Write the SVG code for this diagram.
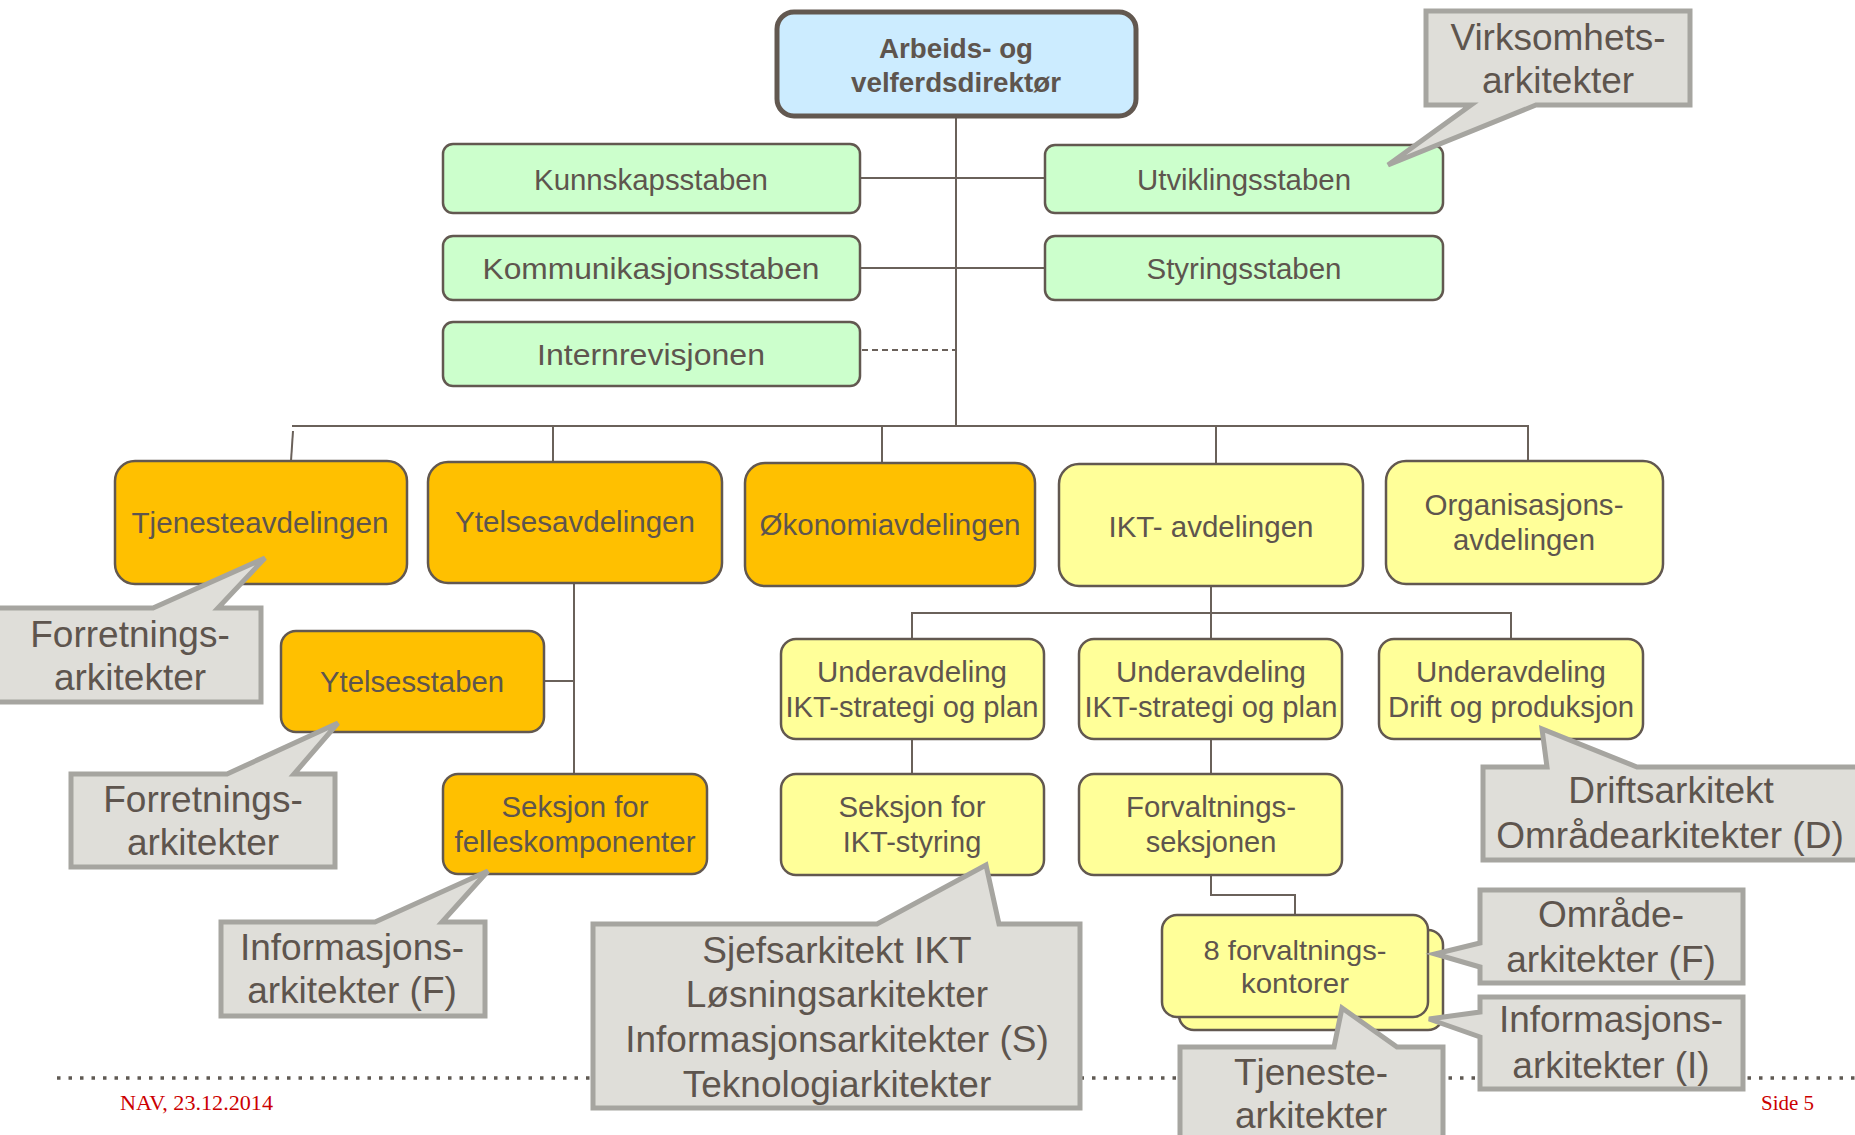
<svg xmlns="http://www.w3.org/2000/svg" width="1855" height="1135" viewBox="0 0 1855 1135">
<style>
.n{stroke:#625850;stroke-width:2.5}
.g{fill:#CCFFCC}
.o{fill:#FFC000}
.y{fill:#FFFF99}
.t{font-family:"Liberation Sans",Arial,sans-serif;font-size:29px;fill:#5E554E;text-anchor:middle}
.c{font-family:"Liberation Sans",Arial,sans-serif;font-size:37px;fill:#5E554E;text-anchor:middle}
.co{fill:#DFDED9;stroke:#A6A5A0;stroke-width:5;stroke-linejoin:miter}
.l{stroke:#6A615A;stroke-width:2;fill:none}
.f{font-family:"Liberation Serif","Times New Roman",serif;font-size:21px;fill:#CC0000}
</style>
<rect x="0" y="0" width="1855" height="1135" fill="#FFFFFF"/>

<g id="connectors">
  <path class="l" d="M956,117 V426"/>
  <path class="l" d="M860,178 H1045"/>
  <path class="l" d="M860,268 H1045"/>
  <path class="l" d="M862,350 H956" stroke-dasharray="6 4"/>
  <path class="l" d="M292,426 H1529" stroke="#8A837D"/>
  <path class="l" d="M293,431 L291,461"/>
  <path class="l" d="M553,426 V462"/>
  <path class="l" d="M882,426 V463"/>
  <path class="l" d="M1216,426 V464"/>
  <path class="l" d="M1528,426 V461"/>
  <path class="l" d="M574,583 V774"/>
  <path class="l" d="M544,681 H574"/>
  <path class="l" d="M1211,586 V613"/>
  <path class="l" d="M912,639 V613 H1511 V639"/>
  <path class="l" d="M1211,613 V639"/>
  <path class="l" d="M912,739 V774"/>
  <path class="l" d="M1211,739 V774"/>
  <path class="l" d="M1211,875 V895 H1295 V915"/>
</g>

<g id="node-direktor">
  <rect x="777" y="12" width="359" height="104" rx="17" fill="#CCECFF" stroke="#625850" stroke-width="5"/>
  <text x="956" y="58" class="t" style="font-weight:bold;font-size:27.5px" textLength="154" lengthAdjust="spacingAndGlyphs">Arbeids- og</text>
  <text x="956" y="92" class="t" style="font-weight:bold;font-size:27.5px" textLength="210" lengthAdjust="spacingAndGlyphs">velferdsdirektør</text>
</g>
<g id="node-kunnskapsstaben">
  <rect x="443" y="144" width="417" height="69" rx="10" class="n g"/>
  <text x="651" y="190" class="t" textLength="234" lengthAdjust="spacingAndGlyphs">Kunnskapsstaben</text>
</g>
<g id="node-kommunikasjonsstaben">
  <rect x="443" y="236" width="417" height="64" rx="10" class="n g"/>
  <text x="651" y="279" class="t" textLength="337" lengthAdjust="spacingAndGlyphs">Kommunikasjonsstaben</text>
</g>
<g id="node-internrevisjonen">
  <rect x="443" y="322" width="417" height="64" rx="10" class="n g"/>
  <text x="651" y="365" class="t" textLength="228" lengthAdjust="spacingAndGlyphs">Internrevisjonen</text>
</g>
<g id="node-utviklingsstaben">
  <rect x="1045" y="145" width="398" height="68" rx="10" class="n g"/>
  <text x="1244" y="190" class="t" textLength="214" lengthAdjust="spacingAndGlyphs">Utviklingsstaben</text>
</g>
<g id="node-styringsstaben">
  <rect x="1045" y="236" width="398" height="64" rx="10" class="n g"/>
  <text x="1244" y="279" class="t" textLength="195" lengthAdjust="spacingAndGlyphs">Styringsstaben</text>
</g>

<g id="node-tjenesteavdelingen">
  <rect x="115" y="461" width="292" height="123" rx="20" class="n o"/>
  <text x="260" y="533" class="t" textLength="257" lengthAdjust="spacingAndGlyphs">Tjenesteavdelingen</text>
</g>
<g id="node-ytelsesavdelingen">
  <rect x="428" y="462" width="294" height="121" rx="20" class="n o"/>
  <text x="575" y="532" class="t" textLength="240" lengthAdjust="spacingAndGlyphs">Ytelsesavdelingen</text>
</g>
<g id="node-okonomiavdelingen">
  <rect x="745" y="463" width="290" height="123" rx="20" class="n o"/>
  <text x="890" y="535" class="t" textLength="261" lengthAdjust="spacingAndGlyphs">Økonomiavdelingen</text>
</g>
<g id="node-ikt-avdelingen">
  <rect x="1059" y="464" width="304" height="122" rx="20" class="n y"/>
  <text x="1211" y="537" class="t" textLength="205" lengthAdjust="spacingAndGlyphs">IKT- avdelingen</text>
</g>
<g id="node-organisasjonsavdelingen">
  <rect x="1386" y="461" width="277" height="123" rx="20" class="n y"/>
  <text x="1524" y="515" class="t" textLength="199" lengthAdjust="spacingAndGlyphs">Organisasjons-</text>
  <text x="1524" y="550" class="t" textLength="142" lengthAdjust="spacingAndGlyphs">avdelingen</text>
</g>

<g id="node-ytelsesstaben">
  <rect x="281" y="631" width="263" height="101" rx="15" class="n o"/>
  <text x="412" y="692" class="t" textLength="184" lengthAdjust="spacingAndGlyphs">Ytelsesstaben</text>
</g>
<g id="node-seksjon-felleskomponenter">
  <rect x="443" y="774" width="264" height="100" rx="15" class="n o"/>
  <text x="575" y="817" class="t" textLength="147" lengthAdjust="spacingAndGlyphs">Seksjon for</text>
  <text x="575" y="852" class="t" textLength="241" lengthAdjust="spacingAndGlyphs">felleskomponenter</text>
</g>
<g id="node-underavdeling-1">
  <rect x="781" y="639" width="263" height="100" rx="15" class="n y"/>
  <text x="912" y="682" class="t" textLength="190" lengthAdjust="spacingAndGlyphs">Underavdeling</text>
  <text x="912" y="717" class="t" textLength="253" lengthAdjust="spacingAndGlyphs">IKT-strategi og plan</text>
</g>
<g id="node-underavdeling-2">
  <rect x="1079" y="639" width="263" height="100" rx="15" class="n y"/>
  <text x="1211" y="682" class="t" textLength="190" lengthAdjust="spacingAndGlyphs">Underavdeling</text>
  <text x="1211" y="717" class="t" textLength="253" lengthAdjust="spacingAndGlyphs">IKT-strategi og plan</text>
</g>
<g id="node-underavdeling-drift">
  <rect x="1379" y="639" width="264" height="100" rx="15" class="n y"/>
  <text x="1511" y="682" class="t" textLength="190" lengthAdjust="spacingAndGlyphs">Underavdeling</text>
  <text x="1511" y="717" class="t" textLength="246" lengthAdjust="spacingAndGlyphs">Drift og produksjon</text>
</g>
<g id="node-seksjon-ikt-styring">
  <rect x="781" y="774" width="263" height="101" rx="15" class="n y"/>
  <text x="912" y="817" class="t" textLength="147" lengthAdjust="spacingAndGlyphs">Seksjon for</text>
  <text x="912" y="852" class="t">IKT-styring</text>
</g>
<g id="node-forvaltningsseksjonen">
  <rect x="1079" y="774" width="263" height="101" rx="15" class="n y"/>
  <text x="1211" y="817" class="t" textLength="170" lengthAdjust="spacingAndGlyphs">Forvaltnings-</text>
  <text x="1211" y="852" class="t">seksjonen</text>
</g>
<g id="node-forvaltningskontorer">
  <rect x="1179" y="930" width="264" height="100" rx="15" class="n y"/>
  <rect x="1162" y="915" width="266" height="102" rx="15" class="n y"/>
  <text x="1295" y="960" class="t" style="font-size:28px" textLength="183" lengthAdjust="spacingAndGlyphs">8 forvaltnings-</text>
  <text x="1295" y="993" class="t" style="font-size:28px" textLength="108" lengthAdjust="spacingAndGlyphs">kontorer</text>
</g>

<g id="footer">
  <line x1="57" y1="1078" x2="1855" y2="1078" stroke="#5F5953" stroke-width="3.5" stroke-dasharray="3.5 8"/>
  <text x="120" y="1110" class="f" textLength="153" lengthAdjust="spacingAndGlyphs">NAV, 23.12.2014</text>
  <text x="1761" y="1110" class="f">Side 5</text>
</g>

<g id="callout-virksomhet">
  <path class="co" d="M1426,11 H1690 V105 H1536 L1388,165 L1471,105 H1426 Z"/>
  <text x="1558" y="50" class="c">Virksomhets-</text>
  <text x="1558" y="93" class="c">arkitekter</text>
</g>
<g id="callout-forretning-1">
  <path class="co" d="M-5,608 H153 L265,558 L218,608 H261 V702 H-5 Z"/>
  <text x="130" y="647" class="c">Forretnings-</text>
  <text x="130" y="690" class="c">arkitekter</text>
</g>
<g id="callout-forretning-2">
  <path class="co" d="M71,774 H227 L338,723 L294,774 H335 V867 H71 Z"/>
  <text x="203" y="812" class="c">Forretnings-</text>
  <text x="203" y="855" class="c">arkitekter</text>
</g>
<g id="callout-informasjon-f">
  <path class="co" d="M221,922 H375 L488,871 L442,922 H485 V1016 H221 Z"/>
  <text x="352" y="960" class="c">Informasjons-</text>
  <text x="352" y="1003" class="c">arkitekter (F)</text>
</g>
<g id="callout-sjefsarkitekt">
  <path class="co" d="M593,924 H877 L986,865 L999,924 H1080 V1108 H593 Z"/>
  <text x="837" y="963" class="c">Sjefsarkitekt IKT</text>
  <text x="837" y="1007" class="c">Løsningsarkitekter</text>
  <text x="837" y="1052" class="c">Informasjonsarkitekter (S)</text>
  <text x="837" y="1097" class="c">Teknologiarkitekter</text>
</g>
<g id="callout-drift">
  <path class="co" d="M1483,767 H1547 L1542,729 L1637,767 H1870 V860 H1483 Z"/>
  <text x="1671" y="803" class="c">Driftsarkitekt</text>
  <text x="1670" y="848" class="c">Områdearkitekter (D)</text>
</g>
<g id="callout-omrade-f">
  <path class="co" d="M1480,890 H1743 V983 H1480 V967 L1435,954 L1480,943 Z"/>
  <text x="1611" y="927" class="c">Område-</text>
  <text x="1611" y="972" class="c">arkitekter (F)</text>
</g>
<g id="callout-informasjon-i">
  <path class="co" d="M1480,997 H1743 V1089 H1480 V1037 L1429,1019 L1480,1012 Z"/>
  <text x="1611" y="1032" class="c">Informasjons-</text>
  <text x="1611" y="1078" class="c">arkitekter (I)</text>
</g>
<g id="callout-tjeneste">
  <path class="co" d="M1180,1047 H1334 L1342,1008 L1397,1047 H1443 V1145 H1180 Z"/>
  <text x="1311" y="1085" class="c">Tjeneste-</text>
  <text x="1311" y="1128" class="c">arkitekter</text>
</g>
</svg>
